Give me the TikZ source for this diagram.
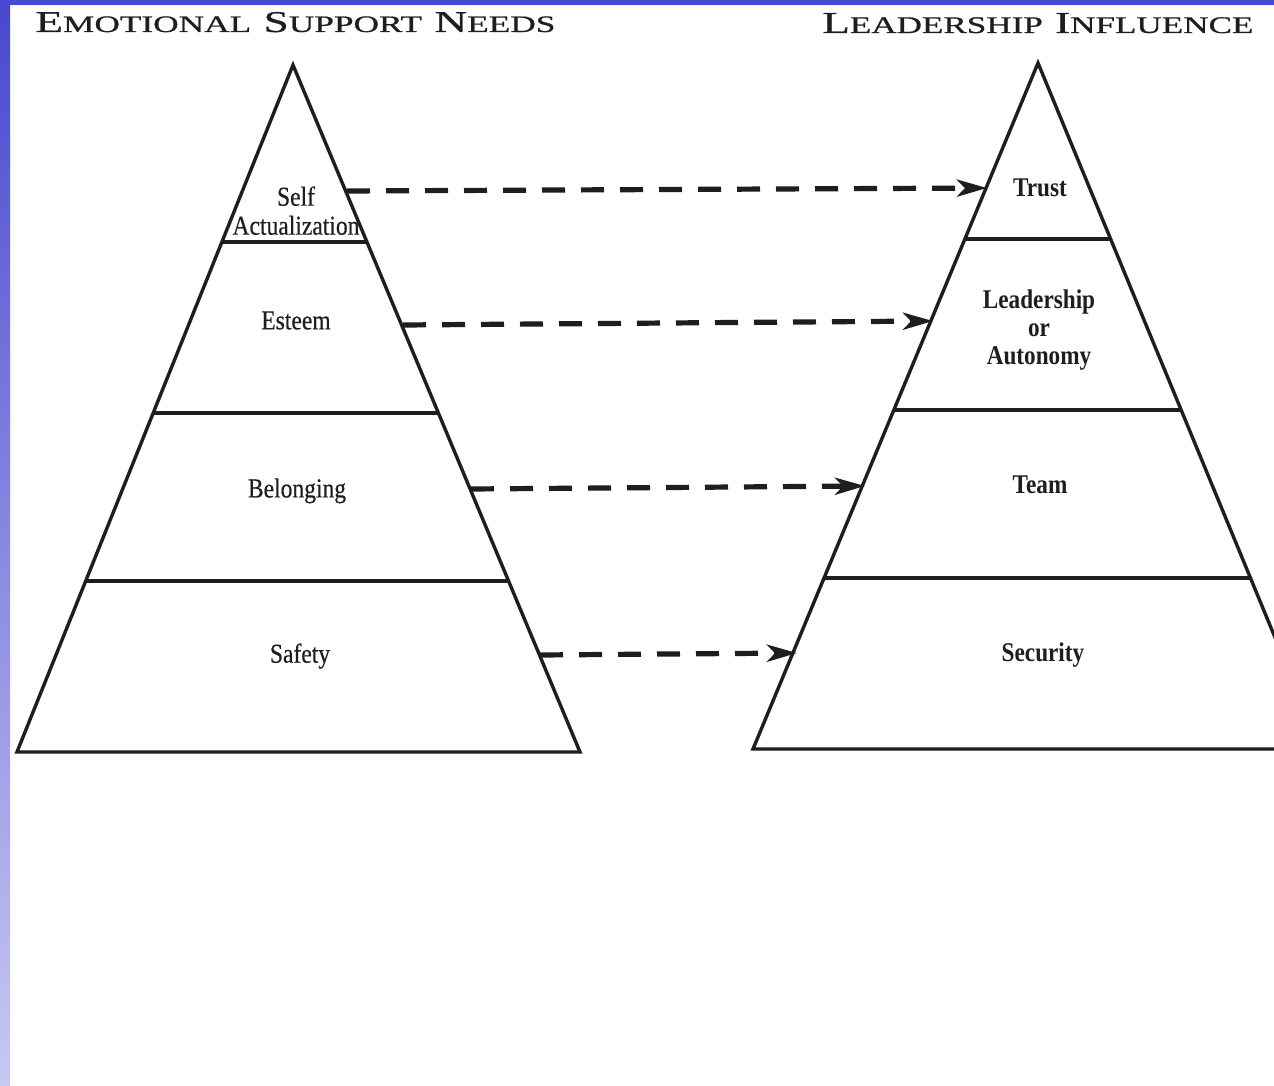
\documentclass[tikz,border=0pt]{standalone}
\usepackage{fontspec}
\usepackage{graphicx}
\setmainfont{Liberation Serif}
\newfontfamily\labfont[FakeStretch=0.86,FakeBold=0.4]{Liberation Serif}
\newfontfamily\labboldfont[FakeStretch=0.86]{Liberation Serif Bold}
\newfontfamily\headfont[FakeBold=0.6]{Liberation Serif}
\usetikzlibrary{arrows.meta}
\definecolor{frameblue}{RGB}{72,72,208}
\definecolor{framelight}{RGB}{200,200,242}
\definecolor{ink}{RGB}{30,30,30}
\newcommand{\fakesc}[2]{{\fontsize{20}{20}\selectfont #1}{\fontsize{15.6}{16}\selectfont #2}}
\begin{document}
\begin{tikzpicture}[x=0.5pt,y=-0.5pt,
  tier/.style={line width=1.7pt, draw=ink, line join=miter},
  flow/.style={line width=2.6pt, draw=ink, dash pattern=on 11.5pt off 8pt,
    -{Stealth[length=15pt,width=8.5pt,inset=4pt]}},
  lablft/.style={inner sep=0pt, anchor=north, align=center, text=ink,
    font=\labfont\fontsize{13.7}{14.5}\selectfont},
  labrgt/.style={inner sep=0pt, anchor=north, align=center, text=ink,
    font=\labboldfont\fontsize{13.5}{14}\selectfont},
  headline/.style={inner sep=0pt, anchor=base west, text=ink, font=\headfont}]

\useasboundingbox (0,0) rectangle (1274,1086);
\fill[white] (0,0) rectangle (1274,1086);
\shade[top color=frameblue, bottom color=framelight] (0,0) rectangle (10,1086);
\fill[frameblue] (0,0) rectangle (1274,5);

% titles
\node[headline] (tleft) at (35,32) {\resizebox{260pt}{10pt}{\fakesc{E}{MOTIONAL}\hspace{0.3em} \fakesc{S}{UPPORT}\hspace{0.3em} \fakesc{N}{EEDS}}};
\node[headline] (tright) at (822,33) {\resizebox{215.5pt}{10pt}{\fakesc{L}{EADERSHIP}\hspace{0.3em} \fakesc{I}{NFLUENCE}}};

% left pyramid
\coordinate (LA) at (293,65);
\coordinate (LL) at (17,752);
\coordinate (LR) at (580,752);
\draw[tier] (LL) -- (LA) -- (LR) -- cycle;
\draw[tier] (221.9,242) -- (367,242);
\draw[tier] (153.2,413) -- (438.4,413);
\draw[tier] (85.7,581) -- (508.6,581);

% right pyramid
\begin{scope}
\clip (0,0) rectangle (1274,1086);
\coordinate (RA) at (1038,63);
\coordinate (RL) at (753,749);
\coordinate (RR) at (1321,749);
\draw[tier] (RL) -- (RA) -- (RR) -- cycle;
\draw[tier] (965,239) -- (1111,239);
\draw[tier] (894,410) -- (1181,410);
\draw[tier] (824,578) -- (1251,578);
\end{scope}

% left labels
\node[lablft] (self) at (296,186) {Self\\Actualization};
\node[lablft] (esteem) at (296,311) {Esteem};
\node[lablft] (belong) at (297,478) {Belonging};
\node[lablft] (safety) at (300,643) {Safety};

% right labels
\node[labrgt] (trust) at (1040,178) {Trust};
\node[labrgt] (lead) at (1039,289) {Leadership\\or\\Autonomy};
\node[labrgt] (team) at (1040,475) {Team};
\node[labrgt] (secur) at (1043,642) {Security};

% connectors
\coordinate (s1) at (347,191); \coordinate (e1) at (987,188);
\coordinate (s2) at (403,325); \coordinate (e2) at (933,321);
\coordinate (s3) at (471,489); \coordinate (e3) at (865,486);
\coordinate (s4) at (540,655); \coordinate (e4) at (797,653);
\draw[flow] (s1) -- (e1);
\draw[flow] (s2) -- (e2);
\draw[flow] (s3) -- (e3);
\draw[flow] (s4) -- (e4);
\end{tikzpicture}
\end{document}
